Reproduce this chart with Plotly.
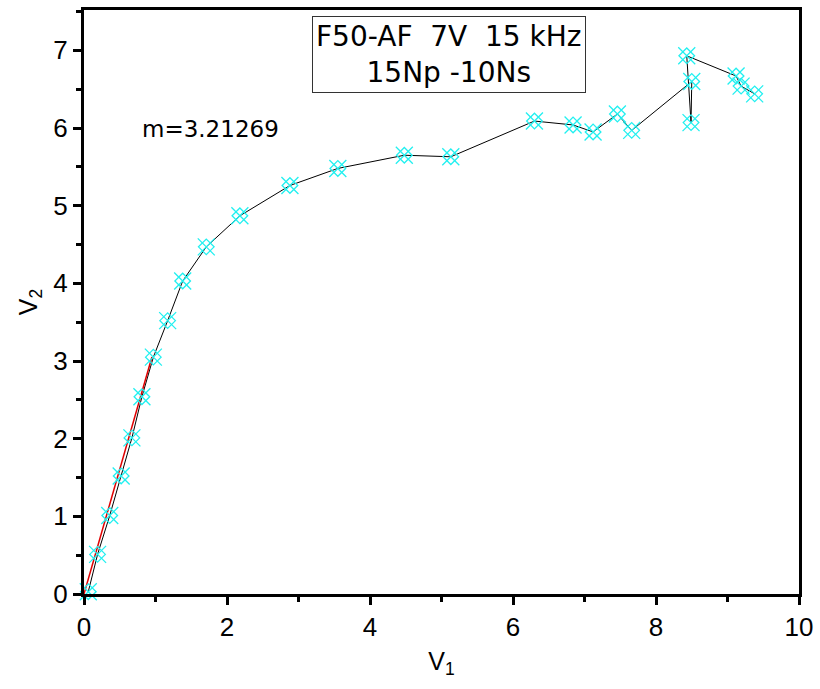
import plotly.graph_objects as go

v1 = [0.06, 0.19, 0.36, 0.52, 0.67, 0.81, 0.97, 1.17, 1.38, 1.71, 2.18, 2.88, 3.55,
      4.48, 5.13, 6.30, 6.84, 7.12, 7.46, 7.66, 8.50, 8.49, 8.43, 9.12, 9.19, 9.38]
v2 = [0.03, 0.51, 1.01, 1.52, 2.01, 2.54, 3.05, 3.52, 4.03, 4.47, 4.87, 5.26, 5.48,
      5.65, 5.63, 6.09, 6.04, 5.95, 6.18, 5.97, 6.60, 6.07, 6.93, 6.67, 6.54, 6.44]

slope_m = 3.21269
fit_x = [0.0, 0.95]
fit_y = [slope_m * x for x in fit_x]

title_text = "F50-AF  7V  15 kHz<br>15Np -10Ns"
slope_label = "m=3.21269"

CYAN = "#22f0f0"
TICKFONT = "Liberation Sans Narrow, Arial Narrow, Liberation Sans, Arial"

fig = go.Figure()
fig.add_trace(go.Scatter(x=v1, y=v2, mode="lines", line=dict(color="black", width=1),
                         showlegend=False, hoverinfo="skip"))
fig.add_trace(go.Scatter(x=fit_x, y=fit_y, mode="lines", line=dict(color="#e00000", width=1.5),
                         showlegend=False))
fig.add_trace(go.Scatter(x=v1, y=v2, mode="markers", cliponaxis=False,
                         marker=dict(symbol="x-thin-open", size=17, color=CYAN,
                                     line=dict(color=CYAN, width=1.3)),
                         showlegend=False))
fig.add_trace(go.Scatter(x=v1, y=v2, mode="markers", cliponaxis=False,
                         marker=dict(symbol="diamond-open", size=12, color=CYAN,
                                     line=dict(color=CYAN, width=1.3)),
                         showlegend=False))

axis_common = dict(showgrid=False, zeroline=False, showline=True, linecolor="black",
                   linewidth=3, mirror=True, ticks="outside", tickwidth=3, ticklen=8,
                   tickcolor="black",
                   tickfont=dict(family=TICKFONT, size=26, color="black"))

fig.update_xaxes(range=[0, 10], dtick=2, tick0=0,
                 minor=dict(dtick=1, ticks="outside", ticklen=5, tickwidth=2.5, tickcolor="black"),
                 title=dict(text="V<sub>1</sub>", font=dict(family="Liberation Sans, Arial", size=25, color="black"),
                            standoff=12),
                 **axis_common)
fig.update_yaxes(range=[0, 7.52], dtick=1, tick0=0,
                 minor=dict(dtick=0.5, ticks="outside", ticklen=5, tickwidth=2.5, tickcolor="black"),
                 title=dict(text="V<sub>2</sub>", font=dict(family="Liberation Sans, Arial", size=25, color="black"),
                            standoff=9),
                 **axis_common)

fig.add_annotation(x=0.51, y=0.99, xref="paper", yref="paper", xanchor="center", yanchor="top",
                   text=title_text, showarrow=False, align="center",
                   font=dict(family="DejaVu Sans", size=28, color="black"),
                   bordercolor="#333333", borderwidth=1, borderpad=3, bgcolor="white")
fig.add_annotation(x=1.77, y=5.99, xref="x", yref="y", xanchor="center", yanchor="middle",
                   text=slope_label, showarrow=False,
                   font=dict(family="DejaVu Sans", size=23, color="black"))

fig.update_layout(width=820, height=689, margin=dict(l=84, r=15, t=7, b=95),
                  plot_bgcolor="white", paper_bgcolor="white")

fig.write_html("out.html")
